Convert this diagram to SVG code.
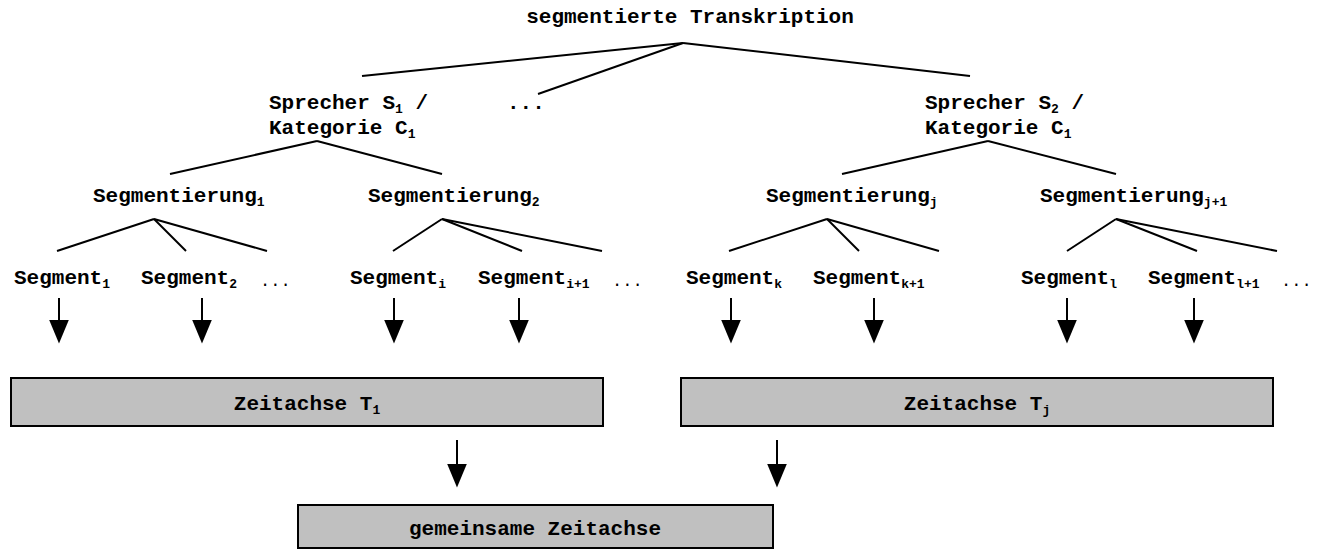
<svg xmlns="http://www.w3.org/2000/svg" width="1317" height="550" viewBox="0 0 1317 550">
  <style>
    text { font-family: "Liberation Mono", "Courier New", monospace; font-weight: bold; font-size: 21px; fill: #000; }
    .sub { font-size: 13px; }
    .dots { font-weight: normal; font-size: 17px; }
    .edge { stroke: #000; stroke-width: 2; fill: none; }
    .arrow { stroke: #000; stroke-width: 2; fill: none; marker-end: url(#head); }
    .box { fill: #c0c0c0; stroke: #000; stroke-width: 2; }
  </style>
  <defs>
    <!-- solid triangular head, drawn along the line direction -->
    <marker id="head" markerUnits="userSpaceOnUse" markerWidth="24" markerHeight="20" refX="0.5" refY="10" orient="auto" viewBox="0 0 24 20">
      <path d="M0,0 L24,10 L0,20 Z" fill="#000"/>
    </marker>
  </defs>

  <!-- tree edges and flow arrows -->
  <g id="connectors">
    <line class="edge" x1="683" y1="43" x2="362" y2="76"/>
    <line class="edge" x1="683" y1="43" x2="538" y2="94"/>
    <line class="edge" x1="683" y1="43" x2="970" y2="76"/>

    <line class="edge" x1="317" y1="141" x2="170" y2="174"/>
    <line class="edge" x1="317" y1="141" x2="442" y2="174"/>
    <line class="edge" x1="988" y1="141" x2="842" y2="174"/>
    <line class="edge" x1="988" y1="141" x2="1116" y2="174"/>

    <line class="edge" x1="154" y1="219" x2="57" y2="251"/>
    <line class="edge" x1="154" y1="219" x2="186" y2="251"/>
    <line class="edge" x1="154" y1="219" x2="267" y2="251"/>
    <line class="edge" x1="442" y1="219" x2="393" y2="251"/>
    <line class="edge" x1="442" y1="219" x2="522" y2="251"/>
    <line class="edge" x1="442" y1="219" x2="602" y2="251"/>
    <line class="edge" x1="827" y1="219" x2="729" y2="251"/>
    <line class="edge" x1="827" y1="219" x2="859" y2="251"/>
    <line class="edge" x1="827" y1="219" x2="939" y2="251"/>
    <line class="edge" x1="1116" y1="219" x2="1067" y2="251"/>
    <line class="edge" x1="1116" y1="219" x2="1197" y2="251"/>
    <line class="edge" x1="1116" y1="219" x2="1277" y2="251"/>

    <line class="arrow" x1="59" y1="298" x2="59" y2="320"/>
    <line class="arrow" x1="202" y1="298" x2="202" y2="320"/>
    <line class="arrow" x1="394" y1="298" x2="394" y2="320"/>
    <line class="arrow" x1="519" y1="298" x2="519" y2="320"/>
    <line class="arrow" x1="731" y1="298" x2="731" y2="320"/>
    <line class="arrow" x1="874" y1="298" x2="874" y2="320"/>
    <line class="arrow" x1="1067" y1="298" x2="1067" y2="320"/>
    <line class="arrow" x1="1194" y1="298" x2="1194" y2="320"/>

    <line class="arrow" x1="457" y1="440" x2="457" y2="464"/>
    <line class="arrow" x1="777" y1="440" x2="777" y2="464"/>
  </g>

  <g id="transkription">
    <text x="690" y="23" text-anchor="middle">segmentierte Transkription</text>
  </g>

  <g id="sprecher-1">
    <text x="269" y="109">Sprecher S<tspan class="sub" dy="4">1</tspan><tspan dy="-4"> /</tspan></text>
    <text x="269" y="134">Kategorie C<tspan class="sub" dy="4">1</tspan></text>
  </g>
  <g id="sprecher-weitere">
    <text x="507" y="109">...</text>
  </g>
  <g id="sprecher-2">
    <text x="925" y="109">Sprecher S<tspan class="sub" dy="4">2</tspan><tspan dy="-4"> /</tspan></text>
    <text x="925" y="134">Kategorie C<tspan class="sub" dy="4">1</tspan></text>
  </g>

  <g id="segmentierung-1"><text x="93" y="202">Segmentierung<tspan class="sub" dy="4">1</tspan></text></g>
  <g id="segmentierung-2"><text x="368" y="202">Segmentierung<tspan class="sub" dy="4">2</tspan></text></g>
  <g id="segmentierung-j"><text x="766" y="202">Segmentierung<tspan class="sub" dy="4">j</tspan></text></g>
  <g id="segmentierung-j1"><text x="1040" y="202">Segmentierung<tspan class="sub" dy="4">j+1</tspan></text></g>

  <g id="segment-1"><text x="14" y="284">Segment<tspan class="sub" dy="4">1</tspan></text></g>
  <g id="segment-2"><text x="141" y="284">Segment<tspan class="sub" dy="4">2</tspan></text></g>
  <g id="segment-dots-a"><text class="dots" x="260" y="286">...</text></g>
  <g id="segment-i"><text x="350" y="284">Segment<tspan class="sub" dy="4">i</tspan></text></g>
  <g id="segment-i1"><text x="478" y="284">Segment<tspan class="sub" dy="4">i+1</tspan></text></g>
  <g id="segment-dots-b"><text class="dots" x="612" y="286">...</text></g>
  <g id="segment-k"><text x="686" y="284">Segment<tspan class="sub" dy="4">k</tspan></text></g>
  <g id="segment-k1"><text x="813" y="284">Segment<tspan class="sub" dy="4">k+1</tspan></text></g>
  <g id="segment-l"><text x="1021" y="284">Segment<tspan class="sub" dy="4">l</tspan></text></g>
  <g id="segment-l1"><text x="1148" y="284">Segment<tspan class="sub" dy="4">l+1</tspan></text></g>
  <g id="segment-dots-c"><text class="dots" x="1281" y="286">...</text></g>

  <g id="zeitachse-1">
    <rect class="box" x="11" y="378" width="592" height="48"/>
    <text x="307" y="410" text-anchor="middle">Zeitachse T<tspan class="sub" dy="4">1</tspan></text>
  </g>
  <g id="zeitachse-j">
    <rect class="box" x="681" y="378" width="592" height="48"/>
    <text x="977" y="410" text-anchor="middle">Zeitachse T<tspan class="sub" dy="4">j</tspan></text>
  </g>
  <g id="gemeinsame-zeitachse">
    <rect class="box" x="298" y="505" width="475" height="43"/>
    <text x="535" y="535" text-anchor="middle">gemeinsame Zeitachse</text>
  </g>
</svg>
